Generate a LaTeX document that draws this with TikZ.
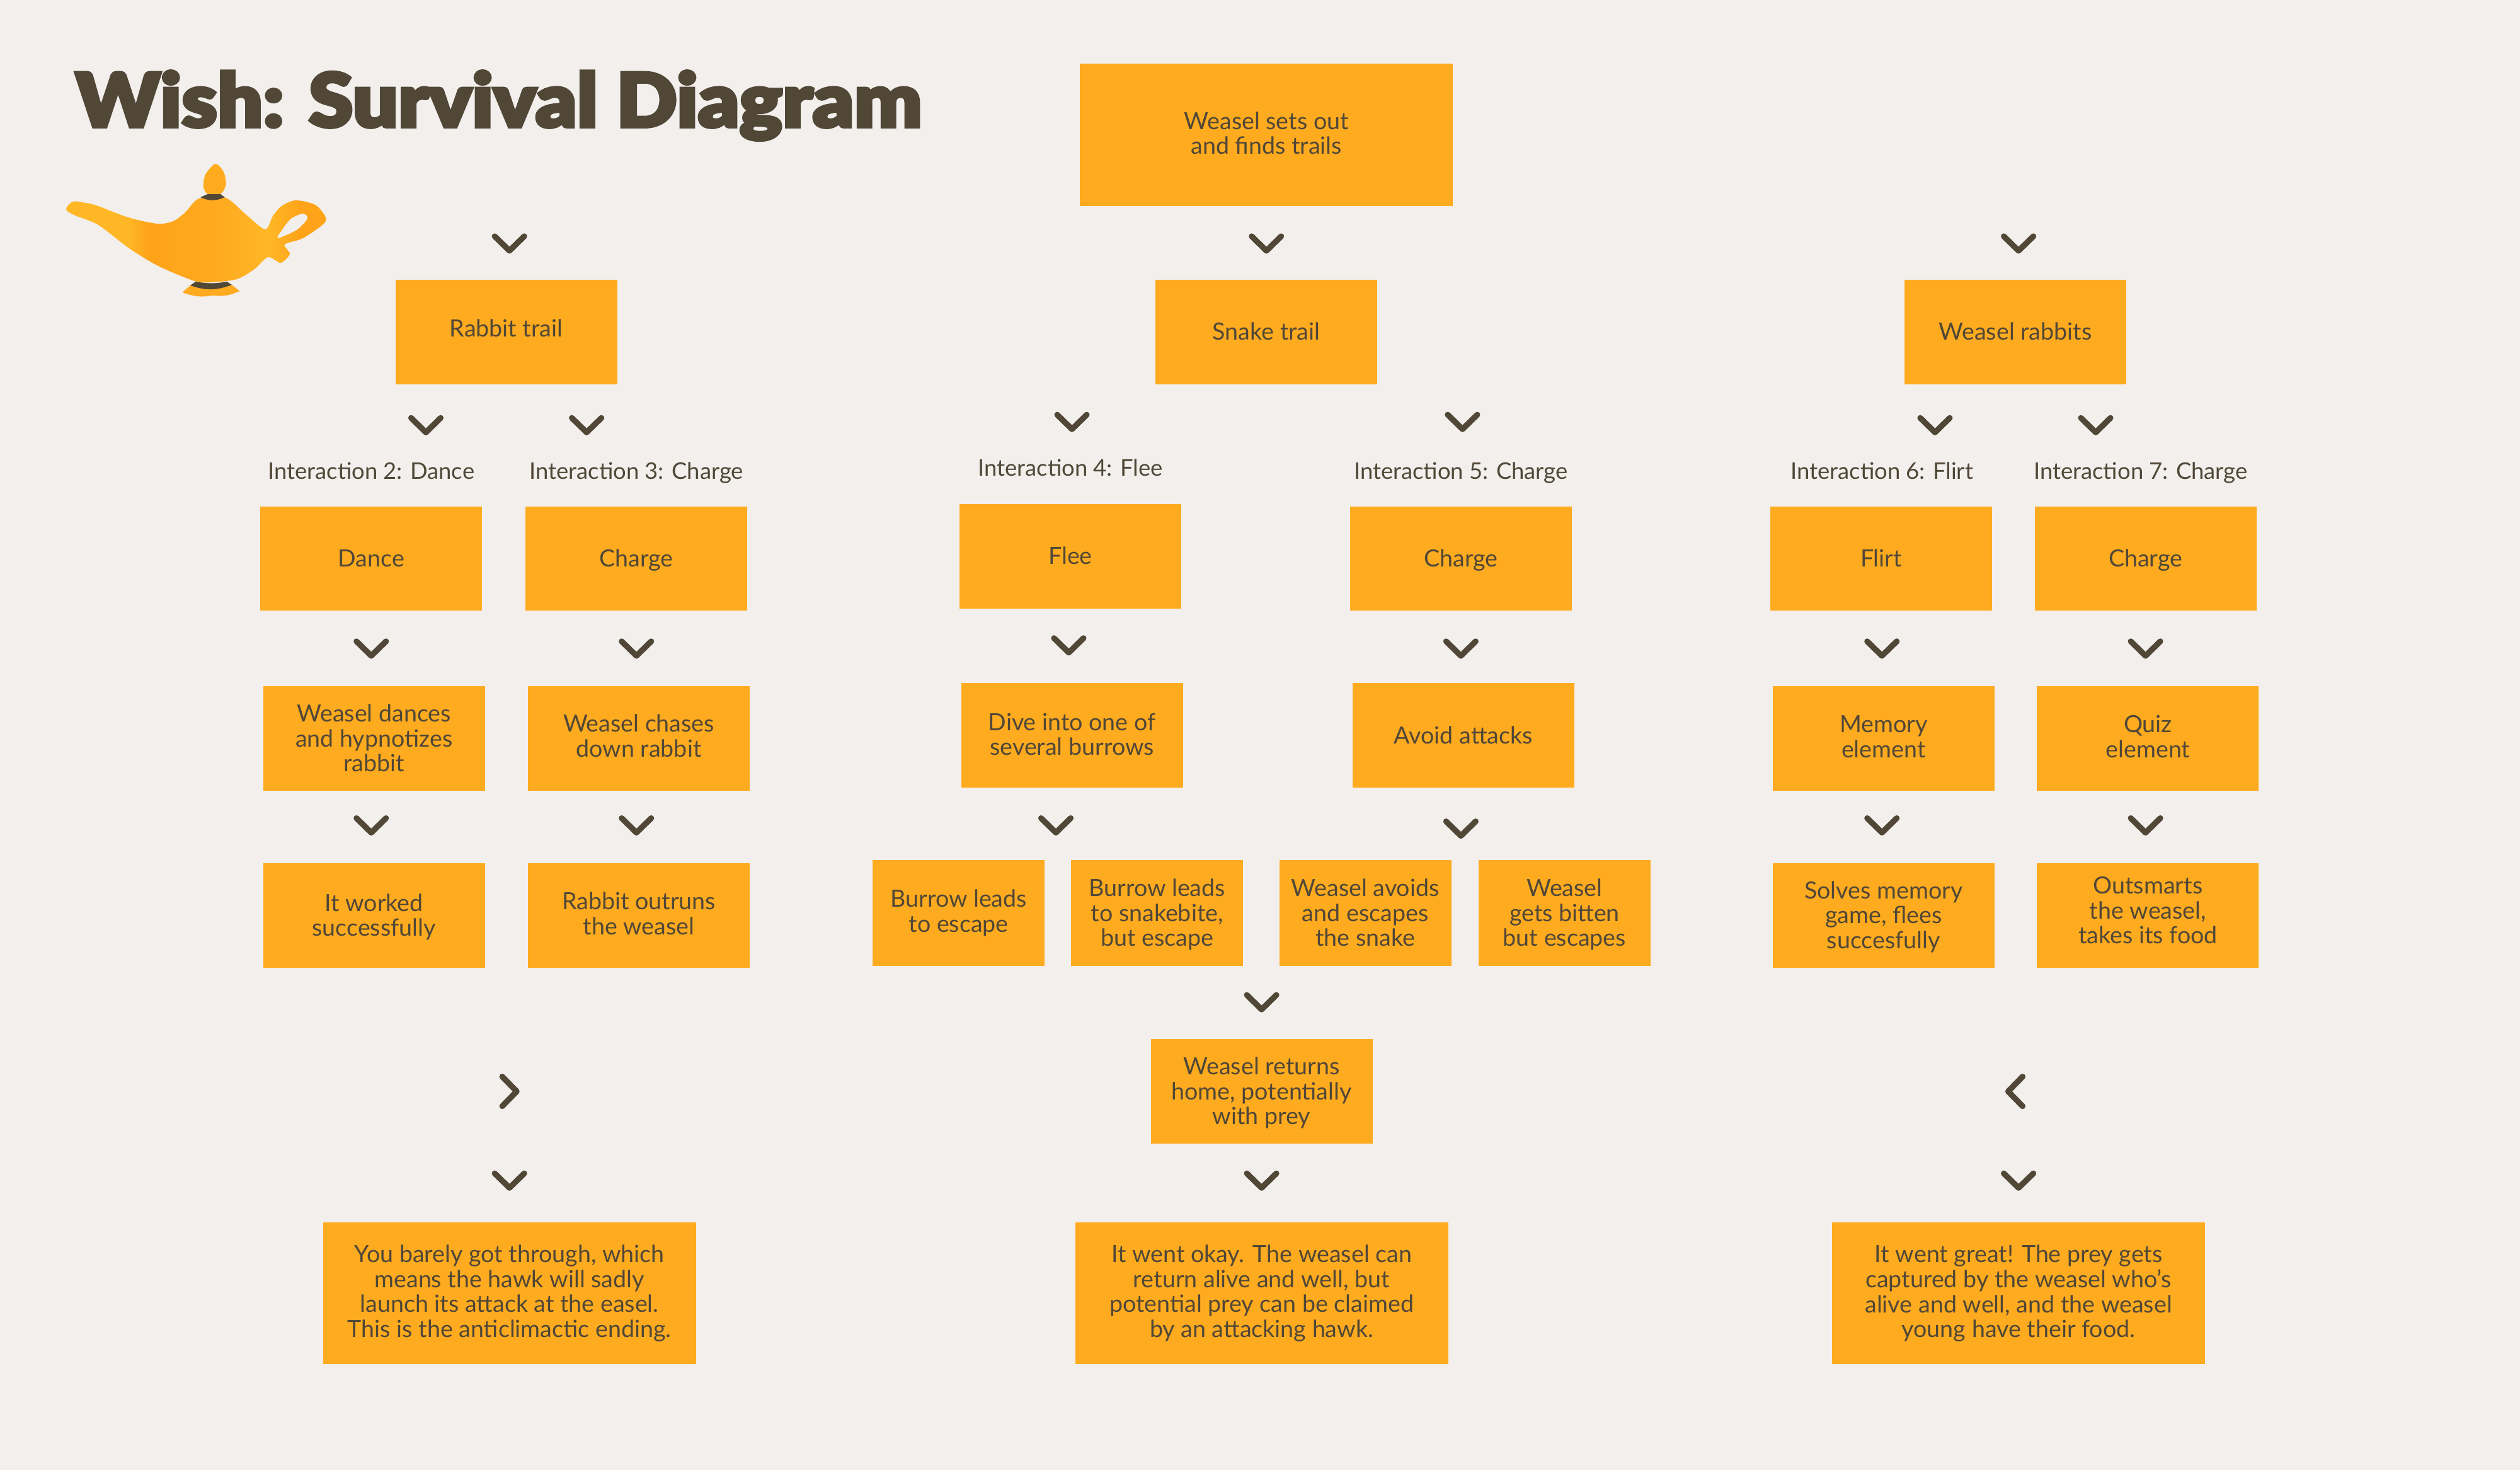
\documentclass[tikz,border=0pt]{standalone}
\usepackage{fontspec}
\setmainfont{Lato}
\newfontfamily\titlefont[FakeBold=4]{Lato Black}
\definecolor{bgc}{HTML}{F2EFEC}
\definecolor{boxc}{HTML}{FFAB1F}
\definecolor{ink}{HTML}{504737}
\definecolor{lamplt}{HTML}{FFB726}
\definecolor{lampdk}{HTML}{FFA319}
\pgfdeclarehorizontalshading{lampshade}{100bp}{color(0bp)=(lamplt); color(37bp)=(lamplt); color(41bp)=(lampdk); color(55bp)=(boxc); color(64bp)=(lamplt); color(70bp)=(lampdk); color(100bp)=(lampdk)}
\def\liftamt{0pt}
\newcommand{\tb}[1]{\begin{tabular}{@{}c@{}}\rule{0pt}{9.5pt}#1\rule[-\dimexpr 2.97pt+2\dimexpr\liftamt\relax\relax]{0pt}{1pt}\end{tabular}}
\tikzset{
  bx/.style={fill=boxc,text=ink,inner sep=0pt,outer sep=0pt,font=\fontsize{9.4}{9.9}\selectfont},
  lift/.code={\def\liftamt{#1}},
  stdbox/.style={bx,minimum width=88pt,minimum height=41.45pt},
  bigbox/.style={bx,minimum width=148pt,minimum height=56.4pt},
  smallbox/.style={bx,minimum width=68.2pt,minimum height=42pt},
  lbl/.style={text=ink,inner sep=0pt,text height=9.5pt,text depth=3pt,font=\fontsize{9.1}{9.9}\selectfont},
  chev/.style={draw=ink,line width=2.3pt,line cap=round,line join=round},
  chevdown/.pic={\draw[chev] (-9.2,-4)--(0,5)--(9.2,-4);},
  chevright/.pic={\draw[chev] (-4.5,-9.2)--(4.5,0)--(-4.5,9.2);},
  chevleft/.pic={\draw[chev] (4.5,-9.2)--(-4.5,0)--(4.5,9.2);},
}
\begin{document}
\begin{tikzpicture}[x=0.63776pt,y=-0.63776pt]
\fill[bgc] (0,0) rectangle (1568,914.5);
\useasboundingbox (0,0) rectangle (1568,914.5);
\node[anchor=base west,inner sep=0pt,text=ink] (title) at (46.6,79) {\scalebox{1.135}[1.06]{\titlefont\fontsize{28}{30}\selectfont Wish: Survival Diagram}};
% lamp
\begin{scope}[scale=0.392]
\shade[shading=lampshade,even odd rule]
 plot[smooth cycle,tension=0.5] coordinates {(115.5,320)(105,332)(117,341)(156,357)(203.5,393)(251,422)(309,446)(335.5,448)(376,443)(404,427)(425.5,408)(445.5,417)(460,403)(452,388)(481,378)(514,355)(516,343)(500,325)(469.5,318)(447,327)(433,343)(420.7,364)(390,340)(356.6,313)(316,315)(294,337)(275,351)(249.4,355)(203.5,345)(155.7,327)(136.5,322)}
 plot[smooth cycle,tension=0.5] coordinates {(481,339)(488,347)(471,365)(441,378)(447.5,365)(462,347)};
\fill[boxc] plot[smooth cycle,tension=0.5] coordinates {(342,260)(326,277)(323,297)(330,308)(350,308)(358.5,293)(355,273)};
\fill[boxc] (302,453)--(337.5,456)--(368,452)--(380.5,462) to[bend left=15] (337.5,469) to[bend left=15] (289.6,464)--cycle;
\fill[ink] (330,308)--(350,308)--(356.6,313) to[bend left=25] (318,313)--cycle;
\fill[ink] (310.6,447) to[bend right=10] (360,447)--(368,452) to[bend left=20] (302,453)--cycle;
\end{scope}
% boxes
\node[bigbox,lift=0.6pt] (top) at (788,84) {\tb{Weasel sets out\\and finds trails}};
\node[stdbox,lift=1.3pt] (rabbit) at (315,206.5) {\tb{Rabbit trail}};
\node[stdbox] (snake) at (788,206.5) {\tb{Snake trail}};
\node[stdbox] (wrabbits) at (1254,206.5) {\tb{Weasel rabbits}};
\node[lbl] (i2) at (231,293) {Interaction 2: Dance};
\node[lbl] (i3) at (396,293) {Interaction 3: Charge};
\node[lbl] (i4) at (666,291) {Interaction 4: Flee};
\node[lbl] (i5) at (909,293) {Interaction 5: Charge};
\node[lbl] (i6) at (1171,293) {Interaction 6: Flirt};
\node[lbl] (i7) at (1332,293) {Interaction 7: Charge};
\node[stdbox] (dance) at (231,347.5) {\tb{Dance}};
\node[stdbox] (charge3) at (396,347.5) {\tb{Charge}};
\node[stdbox] (flee) at (666,346) {\tb{Flee}};
\node[stdbox] (charge5) at (909,347.5) {\tb{Charge}};
\node[stdbox] (flirt) at (1170.5,347.5) {\tb{Flirt}};
\node[stdbox] (charge7) at (1335,347.5) {\tb{Charge}};
\node[stdbox] (hyp) at (232.7,459.5) {\tb{Weasel dances\\and hypnotizes\\rabbit}};
\node[stdbox,lift=1pt] (chases) at (397.5,459.5) {\tb{Weasel chases\\down rabbit}};
\node[stdbox,lift=0.3pt] (dive) at (667,457.5) {\tb{Dive into one of\\several burrows}};
\node[stdbox] (avoid) at (910.5,457.5) {\tb{Avoid attacks}};
\node[stdbox,lift=0.7pt] (memory) at (1172,459.5) {\tb{Memory\\element}};
\node[stdbox,lift=0.7pt] (quiz) at (1336.5,459.5) {\tb{Quiz\\element}};
\node[stdbox] (worked) at (232.7,569.5) {\tb{It worked\\successfully}};
\node[stdbox,lift=0.6pt] (outruns) at (397.5,569.5) {\tb{Rabbit outruns\\the weasel}};
\node[smallbox,lift=0.6pt] (b1) at (596.5,568) {\tb{Burrow leads\\to escape}};
\node[smallbox] (b2) at (720,568) {\tb{Burrow leads\\to snakebite,\\but escape}};
\node[smallbox] (b3) at (849.5,568) {\tb{Weasel avoids\\and escapes\\the snake}};
\node[smallbox] (b4) at (973.5,568) {\tb{Weasel\\gets bitten\\but escapes}};
\node[stdbox] (solves) at (1172,569.5) {\tb{Solves memory\\game, flees\\succesfully}};
\node[stdbox,lift=1.9pt] (outsmarts) at (1336.5,569.5) {\tb{Outsmarts\\the weasel,\\takes its food}};
\node[stdbox] (returns) at (785,679) {\tb{Weasel returns\\home, potentially\\with prey}};
\node[bigbox,lift=0.6pt] (e1) at (317,804.5) {\tb{You barely got through, which\\means the hawk will sadly\\launch its attack at the easel.\\This is the anticlimactic ending.}};
\node[bigbox,lift=0.6pt] (e2) at (785,804.5) {\tb{It went okay. The weasel can\\return alive and well, but\\potential prey can be claimed\\by an attacking hawk.}};
\node[bigbox,lift=0.6pt] (e3) at (1256,804.5) {\tb{It went great! The prey gets\\captured by the weasel who's\\alive and well, and the weasel\\young have their food.}};
% chevrons
\foreach \px/\py in {317/151,788/151,1256/151,265/264,365/264,667/262,910/262,1204/264,1304/264,231/403,396/403,665/401,909/403,1171/403,1335/403,231/513,396/513,657/513,909/515,1171/513,1335/513,785/623,317/734,785/734,1256/734}
  \pic at (\px,\py) {chevdown};
\pic at (317,679) {chevright};
\pic at (1254,679) {chevleft};
\end{tikzpicture}
\end{document}
